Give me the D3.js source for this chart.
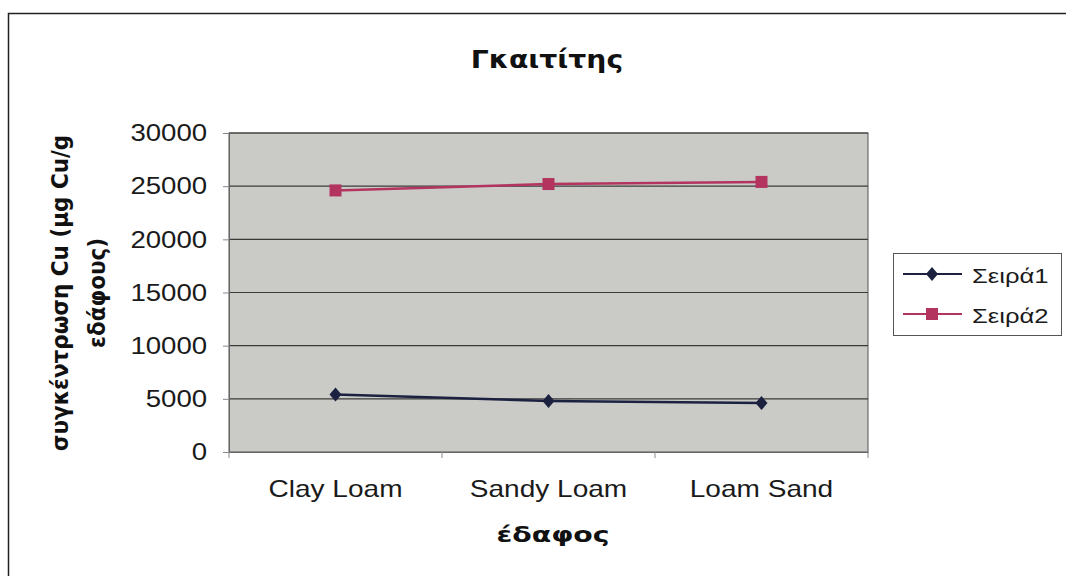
<!DOCTYPE html>
<html><head><meta charset="utf-8">
<script src="https://cdn.jsdelivr.net/npm/d3@7"></script>
<style>body{margin:0;background:#fff}svg{display:block}</style>
</head><body>
<svg id="c" width="1066" height="576"></svg>
<script>
const categories = ["Clay Loam", "Sandy Loam", "Loam Sand"];
const series1 = [5400, 4800, 4600];
const series2 = [24600, 25200, 25400];
const seriesNames = ["Σειρά1", "Σειρά2"];
const yTicks = [0, 5000, 10000, 15000, 20000, 25000, 30000];
const title = "Γκαιτίτης";
const yTitle = ["συγκέντρωση Cu (μg Cu/g", "εδάφους)"];
const xTitle = "έδαφος";

const svg = d3.select("#c");
const font = "Liberation Sans, Arial, sans-serif";
const bfont = "DejaVu Sans, sans-serif";
const L = 229, R = 868, T = 133, B = 452;

// outer frame
svg.append("rect").attr("x", 8.5).attr("y", 13.5).attr("width", 1200).attr("height", 700)
  .attr("fill", "#fff").attr("stroke", "#222").attr("stroke-width", 1.5);

const x = d3.scaleBand().domain(categories).range([L, R]);
const y = d3.scaleLinear().domain([0, 30000]).range([B, T]);

svg.append("rect").attr("x", L).attr("y", T).attr("width", R - L).attr("height", B - T)
  .attr("fill", "#cacac7").attr("stroke", "#555").attr("stroke-width", 1);

// gridlines
svg.append("g").selectAll("line").data(yTicks.filter(d => d > 0)).join("line")
  .attr("x1", L).attr("x2", R).attr("y1", d => y(d)).attr("y2", d => y(d))
  .attr("stroke", "#3a3a3a").attr("stroke-width", 1.2);

// y axis
const ya = svg.append("g").attr("transform", `translate(${L},0)`)
  .call(d3.axisLeft(y).tickValues(yTicks).tickSize(6).tickPadding(13).tickFormat(d3.format("d")));
ya.select(".domain").attr("stroke", "#666");
ya.selectAll(".tick line").attr("stroke", "#888");
ya.selectAll("text").attr("font-family", font).attr("font-size", 24).attr("fill", "#1a1a1a")
  .attr("transform", "scale(1.15,1)");

// x axis
const xa = svg.append("g").attr("transform", `translate(0,${B})`)
  .call(d3.axisBottom(x).tickSize(0).tickPadding(29));
xa.select(".domain").attr("stroke", "#666");
xa.selectAll("text").attr("font-family", font).attr("font-size", 23).attr("fill", "#1a1a1a")
  .attr("transform", "scale(1.22,1)");
const bounds = [L, ...categories.map(c => x(c) + x.bandwidth())];
svg.append("g").selectAll("line").data(bounds).join("line")
  .attr("x1", d => d).attr("x2", d => d).attr("y1", B).attr("y2", B + 6)
  .attr("stroke", "#888");

const cx = c => x(c) + x.bandwidth() / 2;
const line = d3.line().x((d, i) => cx(categories[i])).y(d => y(d));
const colors = ["#1c2140", "#b2345f"];

[series1, series2].forEach((s, k) => {
  svg.append("path").datum(s).attr("d", line).attr("fill", "none")
    .attr("stroke", colors[k]).attr("stroke-width", 2.5);
});
// markers
svg.append("g").selectAll("path").data(series1).join("path")
  .attr("transform", (d, i) => `translate(${cx(categories[i])},${y(d)})`)
  .attr("d", "M0,-7L6,0L0,7L-6,0Z").attr("fill", colors[0]);
svg.append("g").selectAll("rect").data(series2).join("rect")
  .attr("x", (d, i) => cx(categories[i]) - 6).attr("y", d => y(d) - 6)
  .attr("width", 12).attr("height", 12).attr("fill", colors[1]);

// title
svg.append("text").attr("transform", "translate(547,68) scale(1.13,1)").attr("text-anchor", "middle")
  .attr("font-family", bfont).attr("font-weight", "bold").attr("font-size", 25)
  .attr("fill", "#111").text(title);

// y title
const yt = svg.append("text").attr("transform", "translate(60,293) rotate(-90) scale(1,1.1)")
  .attr("text-anchor", "middle").attr("font-family", bfont)
  .attr("font-weight", "bold").attr("font-size", 21.5).attr("fill", "#111");
yt.append("tspan").attr("x", 0).attr("y", 7).text(yTitle[0]);
yt.append("tspan").attr("x", 0).attr("y", 41).text(yTitle[1]);

// x title
svg.append("text").attr("transform", "translate(553,542) scale(1.35,1)").attr("text-anchor", "middle")
  .attr("font-family", bfont).attr("font-weight", "bold").attr("font-size", 21)
  .attr("fill", "#111").text(xTitle);

// legend
const lg = svg.append("g");
lg.append("rect").attr("x", 893.5).attr("y", 253.5).attr("width", 168).attr("height", 82)
  .attr("fill", "#fff").attr("stroke", "#555");
seriesNames.forEach((n, k) => {
  const ly = 274 + k * 40;
  lg.append("line").attr("x1", 903).attr("x2", 962).attr("y1", ly).attr("y2", ly)
    .attr("stroke", colors[k]).attr("stroke-width", 2);
  if (k === 0) lg.append("path").attr("transform", `translate(932,${ly})`)
    .attr("d", "M0,-7L6,0L0,7L-6,0Z").attr("fill", colors[0]);
  else lg.append("rect").attr("x", 926).attr("y", ly - 6).attr("width", 12).attr("height", 12)
    .attr("fill", colors[1]);
  lg.append("text").attr("transform", `translate(972,${ly + 9}) scale(1.22,1)`).attr("font-family", font)
    .attr("font-size", 21).attr("fill", "#1a1a1a").text(n);
});
</script>
</body></html>
